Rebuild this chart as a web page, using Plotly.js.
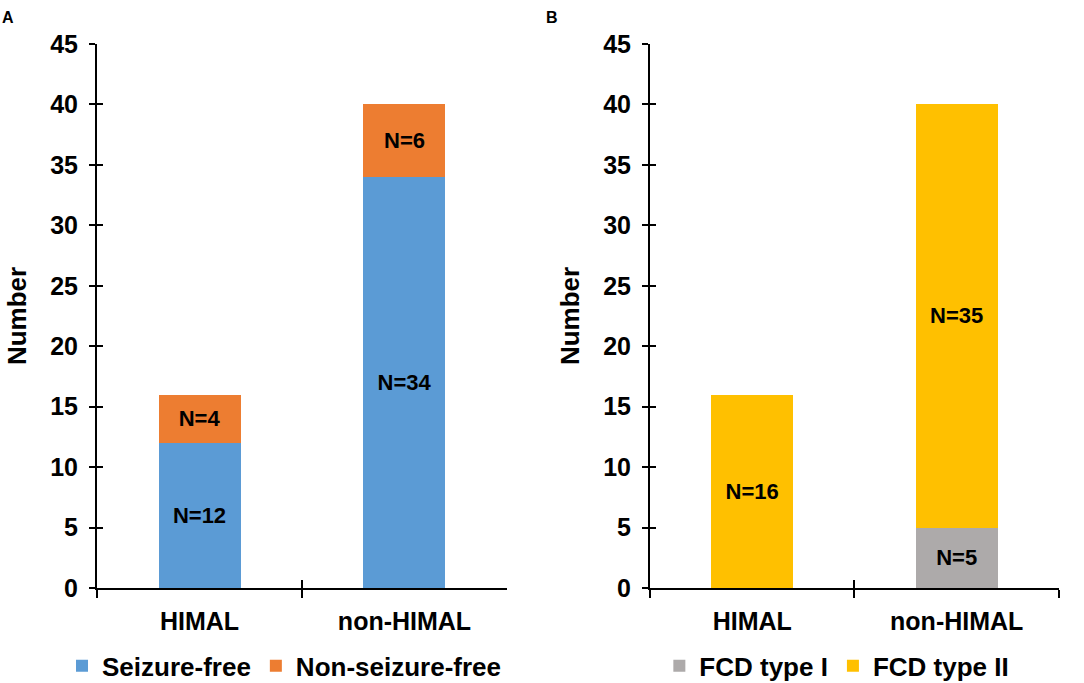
<!DOCTYPE html>
<html>
<head>
<meta charset="utf-8">
<script src="https://cdn.plot.ly/plotly-3.0.1.min.js"></script>
<style>html,body{margin:0;padding:0;background:#fff;}#chart{width:1084px;height:683px;}</style>
</head>
<body>
<div id="chart"></div>
<script>
// Data
const categories = ["HIMAL", "non-HIMAL"];
const seizureFree = [12, 34];
const nonSeizureFree = [4, 6];
const fcdTypeI = [0, 5];
const fcdTypeII = [16, 35];
const yTicks = [0, 5, 10, 15, 20, 25, 30, 35, 40, 45];

const FONT = "Liberation Sans, Arial, sans-serif";
const labelOf = (arr) => arr.map(v => v > 0 ? "N=" + v : "");

function bar(name, vals, color, xa, legend) {
  return {
    type: "bar", name: name, x: categories, y: vals,
    xaxis: xa, yaxis: xa === "x" ? "y" : "y2",
    marker: {color: color, line: {width: 0}},
    width: 0.4,
    text: labelOf(vals), textposition: "inside", insidetextanchor: "middle",
    textangle: 0, constraintext: "none",
    textfont: {family: FONT, size: 22, color: "#000", weight: 700},
    legend: legend, hoverinfo: "skip"
  };
}
// invisible helper traces so the overlaid "inside tick" axes are drawn
function helper(vals, xa, ya) {
  return {type: "scatter", mode: "none", x: categories, y: vals, xaxis: xa, yaxis: ya,
    showlegend: false, hoverinfo: "skip"};
}

const data = [
  bar("Seizure-free", seizureFree, "#5B9BD5", "x", "legend"),
  bar("Non-seizure-free", nonSeizureFree, "#ED7D31", "x", "legend"),
  bar("FCD type I", fcdTypeI, "#ADAAAA", "x2", "legend2"),
  bar("FCD type II", fcdTypeII, "#FFC000", "x2", "legend2"),
  helper(seizureFree, "x3", "y3"),
  helper(fcdTypeII, "x4", "y4")
];

const tickFont = {family: FONT, size: 25, color: "#000", weight: 700};
const yDomain = [0.1391, 0.9356];
const dA = [0.0895, 0.4677], dB = [0.5996, 0.9769];

function xMain(domain, anchor) {
  return {domain: domain, anchor: anchor, type: "category", categoryarray: categories,
    range: [-0.5, 1.5], tickson: "boundaries", ticks: "outside", ticklen: 8, tickwidth: 2,
    tickcolor: "#000", showline: true, linecolor: "#000", linewidth: 2, showgrid: false,
    zeroline: false, tickfont: tickFont, ticklabelstandoff: 10, automargin: false, fixedrange: true};
}
function xIn(over, anchor) {
  return {overlaying: over, anchor: anchor, side: "bottom", type: "category",
    categoryarray: categories, range: [-0.5, 1.5], tickson: "boundaries",
    ticks: "inside", ticklen: 8, tickwidth: 2, tickcolor: "#000",
    showticklabels: false, showline: false, showgrid: false, zeroline: false, fixedrange: true};
}
function yMain(anchor) {
  return {domain: yDomain, anchor: anchor, range: [0, 45], tickvals: yTicks,
    ticks: "outside", ticklen: 6, tickwidth: 2, tickcolor: "#000", showline: true,
    linecolor: "#000", linewidth: 2, showgrid: false, zeroline: false, tickfont: tickFont,
    ticklabelstandoff: 6, automargin: false,
    title: {text: "Number", font: {family: FONT, size: 26, color: "#000", weight: 700}, standoff: 16},
    fixedrange: true};
}
function yIn(over, anchor) {
  return {overlaying: over, anchor: anchor, side: "left", range: [0, 45], tickvals: yTicks,
    ticks: "inside", ticklen: 6, tickwidth: 2, tickcolor: "#000", showticklabels: false,
    showline: false, showgrid: false, zeroline: false, fixedrange: true};
}

const legFont = {family: FONT, size: 26, color: "#000", weight: 700};
const layout = {
  width: 1084, height: 683, margin: {l: 0, r: 0, t: 0, b: 0, autoexpand: false},
  paper_bgcolor: "#fff", plot_bgcolor: "#fff",
  barmode: "stack", bargap: 0.6, showlegend: true,
  xaxis: xMain(dA, "y"), yaxis: yMain("x"),
  xaxis2: xMain(dB, "y2"), yaxis2: yMain("x2"),
  xaxis3: xIn("x", "y3"), yaxis3: yIn("y", "x3"),
  xaxis4: xIn("x2", "y4"), yaxis4: yIn("y2", "x4"),
  legend: {orientation: "h", x: 0.262, xanchor: "center", y: 0.025, yanchor: "middle",
    font: legFont, traceorder: "normal", itemclick: false, bgcolor: "rgba(0,0,0,0)"},
  legend2: {orientation: "h", x: 0.772, xanchor: "center", y: 0.025, yanchor: "middle",
    font: legFont, traceorder: "normal", itemclick: false, bgcolor: "rgba(0,0,0,0)"},
  annotations: [
    {text: "A", xref: "paper", yref: "paper", x: 0.0, y: 0.975, xanchor: "left", yanchor: "middle",
      showarrow: false, font: {family: FONT, size: 16, color: "#000", weight: 700}},
    {text: "B", xref: "paper", yref: "paper", x: 0.502, y: 0.975, xanchor: "left", yanchor: "middle",
      showarrow: false, font: {family: FONT, size: 16, color: "#000", weight: 700}}
  ]
};

Plotly.newPlot("chart", data, layout, {staticPlot: true, displayModeBar: false});
</script>
</body>
</html>
